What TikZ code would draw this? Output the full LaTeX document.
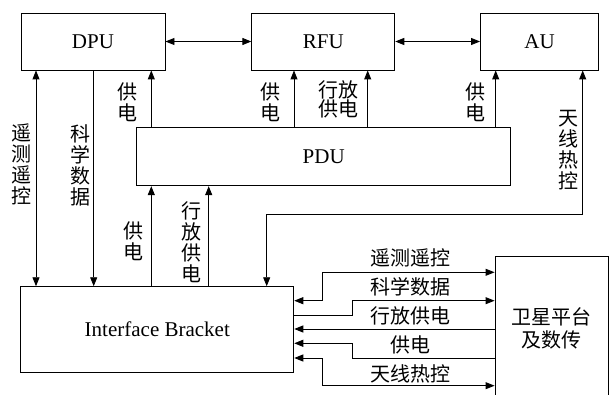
\documentclass[tikz,border=0pt]{standalone}
\usepackage{fontspec}
\setmainfont{Liberation Serif}
\newfontfamily\cjk{Noto Sans CJK SC}
\usetikzlibrary{arrows.meta}
\tikzset{
  unit/.style={draw,line width=0.9pt,minimum height=57pt,inner sep=0pt},
  lbl/.style={font=\cjk\fontsize{20}{21}\selectfont,align=center,inner sep=0pt},
  wire/.style={line width=0.9pt,>={Triangle[length=9pt,width=7pt]}}
}
\begin{document}
\begin{tikzpicture}[x=1pt,y=-1pt,font=\fontsize{21}{24}\selectfont]
\clip (0,0) rectangle (610,395);
% blocks
\node[unit,minimum width=144pt] (dpu) at (93,41.5) {DPU};
\node[unit,minimum width=143pt] (rfu) at (323.3,41.5) {RFU};
\node[unit,minimum width=118pt] (au) at (539.5,41.5) {AU};
\node[unit,minimum width=374pt,minimum height=58pt] (pdu) at (323.7,156.7) {PDU};
\node[unit,minimum width=273pt,minimum height=86pt] (ib) at (157.3,329.7) {Interface Bracket};
\node[unit,minimum width=113.5pt,minimum height=143.3pt,font=\cjk\fontsize{20}{23}\selectfont,align=center] (sat) at (551.75,328.3) {卫星平台\\及数传};
% columns and rows of the wires
\coordinate (xa) at (36,0);   \coordinate (xb) at (93.7,0);
\coordinate (xc) at (151.3,0); \coordinate (xd) at (208.7,0);
\coordinate (xe) at (266.7,0); \coordinate (xf) at (294,0);
\coordinate (xg) at (367.7,0); \coordinate (xh) at (495.7,0);
\coordinate (xi) at (582.7,0); \coordinate (xj) at (322.3,0);
\coordinate (xk) at (352.7,0); \coordinate (yk) at (0,214);
\coordinate (y1) at (0,272.3); \coordinate (y2) at (0,300.7);
\coordinate (y3) at (0,315);   \coordinate (y4) at (0,329);
\coordinate (y5) at (0,343.3); \coordinate (y6) at (0,358);
\coordinate (y7) at (0,385.7);
% top row
\draw[wire,<->] (dpu.east) -- (rfu.west);
\draw[wire,<->] (rfu.east) -- (au.west);
\draw[wire,<->] (dpu.south -| xa) -- (ib.north -| xa);
\draw[wire,->] (dpu.south -| xb) -- (ib.north -| xb);
\draw[wire,->] (pdu.north -| xc) -- (dpu.south -| xc);
\draw[wire,->] (pdu.north -| xf) -- (rfu.south -| xf);
\draw[wire,->] (pdu.north -| xg) -- (rfu.south -| xg);
\draw[wire,->] (pdu.north -| xh) -- (au.south -| xh);
\draw[wire,->] (ib.north -| xc) -- (pdu.south -| xc);
\draw[wire,->] (ib.north -| xd) -- (pdu.south -| xd);
\draw[wire,<->] (ib.north -| xe) -- (xe |- yk) -- (xi |- yk) -- (au.south -| xi);
% right side
\draw[wire,<->] (ib.east |- y2) -- (xj |- y2) -- (xj |- y1) -- (sat.west |- y1);
\draw[wire,->] (ib.east |- y3) -- (xk |- y3) -- (xk |- y2) -- (sat.west |- y2);
\draw[wire,->] (sat.west |- y4) -- (ib.east |- y4);
\draw[wire,->] (sat.west |- y6) -- (xk |- y6) -- (xk |- y5) -- (ib.east |- y5);
\draw[wire,<->] (ib.east |- y6) -- (xj |- y6) -- (xj |- y7) -- (sat.west |- y7);
% labels
\node[lbl] (l1) at (21.7,164.5) {遥\\测\\遥\\控};
\node[lbl] (l2) at (80,165) {科\\学\\数\\据};
\node[lbl] (l3) at (127.7,102) {供\\电};
\node[lbl] (l4) at (270,102) {供\\电};
\node[lbl,font=\cjk\fontsize{20}{19}\selectfont] (l5) at (338,99.5) {行放\\供电};
\node[lbl] (l6) at (475,102) {供\\电};
\node[lbl] (l7) at (568.3,150) {天\\线\\热\\控};
\node[lbl] (l8) at (133.3,241.7) {供\\电};
\node[lbl] (l9) at (191.7,242.5) {行\\放\\供\\电};
\node[lbl] (r1) at (410,258) {遥测遥控};
\node[lbl] (r2) at (410,286.7) {科学数据};
\node[lbl] (r3) at (410,316) {行放供电};
\node[lbl] (r4) at (410,345) {供电};
\node[lbl] (r5) at (410,374) {天线热控};
\end{tikzpicture}
\end{document}
